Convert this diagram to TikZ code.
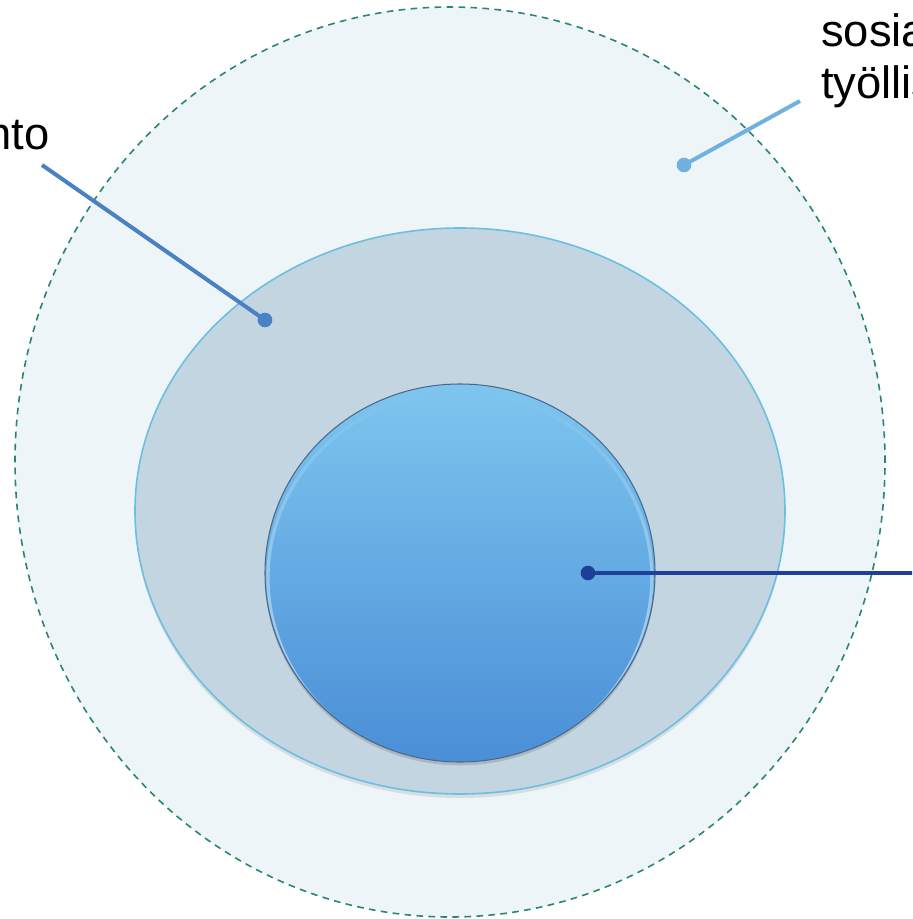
\documentclass[tikz,border=0pt]{standalone}
\usepackage{fontspec}
\setmainfont{Liberation Sans}
\usetikzlibrary{shapes.geometric,shadows,fadings}
\definecolor{outerfill}{HTML}{EEF5F9}
\definecolor{dashcol}{HTML}{2A8577}
\definecolor{midfill}{HTML}{C3D5E1}
\definecolor{midline}{HTML}{6BBFE0}
\definecolor{innertop}{HTML}{7EC6EF}
\definecolor{innerbot}{HTML}{4A8ED6}
\definecolor{innerline}{HTML}{4A6A8C}
\definecolor{lineA}{HTML}{4A80C4}
\definecolor{lineB}{HTML}{70B2DF}
\definecolor{lineC}{HTML}{1F3F99}
\tikzset{
  blob/.style={ellipse, inner sep=0pt},
  dot/.style={circle, fill=#1, inner sep=0pt, minimum size=11pt},
  lead/.style={line width=3pt, draw=#1},
  lbl/.style={font=\fontsize{34pt}{39pt}\selectfont, inner sep=0pt, anchor=base west, align=left},
}
\begin{document}
\begin{tikzpicture}[x=0.75pt,y=-0.75pt]
\useasboundingbox (0,0) rectangle (912,919);
\clip (0,0) rectangle (912,919);
\node[blob, fill=outerfill, draw=dashcol, line width=1.2pt, dash pattern=on 5pt off 4pt,
  minimum width=652.5pt, minimum height=682.5pt] (outer) at (450,462) {};
\node[blob, fill=midfill, draw=midline, line width=1.2pt,
  drop shadow={shadow xshift=0pt, shadow yshift=-3pt, opacity=0.2},
  minimum width=487.5pt, minimum height=424.5pt] (mid) at (460,511) {};
\node[blob, top color=innertop, bottom color=innerbot, draw=innerline, line width=0.8pt,
  drop shadow={shadow xshift=0pt, shadow yshift=-2.5pt, opacity=0.35},
  minimum width=292.5pt, minimum height=283.5pt] (inner) at (460,573) {};
\begin{scope}
  \clip (460,573) ellipse (194 and 188);
  \draw[white, opacity=0.7, line width=2.5pt, path fading=north] (460,578) ellipse (192 and 186);
\end{scope}
\node[dot=lineA] (dA) at (265,320) {};
\node[dot=lineB] (dB) at (684,165) {};
\node[dot=lineC] (dC) at (588,573) {};
\coordinate (eA) at (42,165);
\coordinate (eB) at (800,101);
\coordinate (eC) at (915,573);
\draw[lead=lineA] (eA) -- (dA.center);
\draw[lead=lineB] (eB) -- (dB.center);
\draw[lead=lineC] (dC.center) -- (eC);
\node[lbl] (tA) at (-14,150) {nto};
\node[lbl] (tB) at (821,47) {sosia};
\node[lbl] (tC) at (821,99) {työllis};
\end{tikzpicture}
\end{document}
